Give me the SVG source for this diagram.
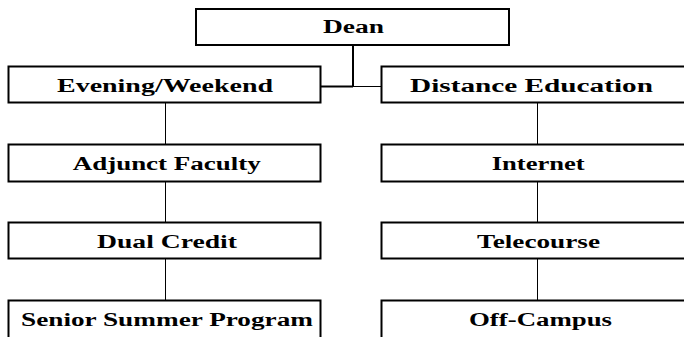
<svg xmlns="http://www.w3.org/2000/svg" width="684" height="337" viewBox="0 0 684 337">
<style>
.box{fill:#fff;stroke:#000;stroke-width:2}
.lbl{font-family:"Liberation Serif",serif;font-weight:bold;font-size:18px;fill:#000}
.ln{stroke:#000;stroke-width:1;fill:none}
.lnb{stroke:#000;stroke-width:2;fill:none}
</style>
<rect width="684" height="337" fill="#fff"/>
<g id="connectors">
<line class="lnb" x1="353" y1="45" x2="353" y2="87"/>
<line class="lnb" x1="321" y1="86.5" x2="353" y2="86.5"/>
<line class="ln" x1="353" y1="86.5" x2="381" y2="86.5"/>
<line class="ln" x1="165.5" y1="103" x2="165.5" y2="144"/>
<line class="ln" x1="165.5" y1="182" x2="165.5" y2="222"/>
<line class="ln" x1="165.5" y1="259" x2="165.5" y2="300"/>
<line class="ln" x1="537.5" y1="103" x2="537.5" y2="144"/>
<line class="ln" x1="537.5" y1="182" x2="537.5" y2="222"/>
<line class="ln" x1="537.5" y1="259" x2="537.5" y2="300"/>
</g>
<g id="dean"><rect class="box" x="196" y="9" width="313" height="36"/><text class="lbl" x="323" y="33" textLength="61" lengthAdjust="spacingAndGlyphs">Dean</text></g>
<g id="evening-weekend"><rect class="box" x="8.5" y="66.5" width="312" height="36"/><text class="lbl" x="57" y="91.5" textLength="216" lengthAdjust="spacingAndGlyphs">Evening/Weekend</text></g>
<g id="distance-education"><rect class="box" x="381.5" y="66.5" width="330" height="36"/><text class="lbl" x="410" y="91.5" textLength="243" lengthAdjust="spacingAndGlyphs">Distance Education</text></g>
<g id="adjunct-faculty"><rect class="box" x="8.5" y="144.5" width="312" height="37"/><text class="lbl" x="72.7" y="169.5" textLength="188" lengthAdjust="spacingAndGlyphs">Adjunct Faculty</text></g>
<g id="internet"><rect class="box" x="381.5" y="144.5" width="330" height="37"/><text class="lbl" x="491.7" y="169.5" textLength="93" lengthAdjust="spacingAndGlyphs">Internet</text></g>
<g id="dual-credit"><rect class="box" x="8.5" y="222.5" width="312" height="36"/><text class="lbl" x="97" y="247.5" textLength="140" lengthAdjust="spacingAndGlyphs">Dual Credit</text></g>
<g id="telecourse"><rect class="box" x="381.5" y="222.5" width="330" height="36"/><text class="lbl" x="477" y="247.5" textLength="123" lengthAdjust="spacingAndGlyphs">Telecourse</text></g>
<g id="senior-summer-program"><rect class="box" x="8.5" y="300.5" width="312" height="60"/><text class="lbl" x="21" y="326" textLength="292" lengthAdjust="spacingAndGlyphs">Senior Summer Program</text></g>
<g id="off-campus"><rect class="box" x="381.5" y="300.5" width="330" height="60"/><text class="lbl" x="469" y="326" textLength="143" lengthAdjust="spacingAndGlyphs">Off-Campus</text></g>
</svg>
